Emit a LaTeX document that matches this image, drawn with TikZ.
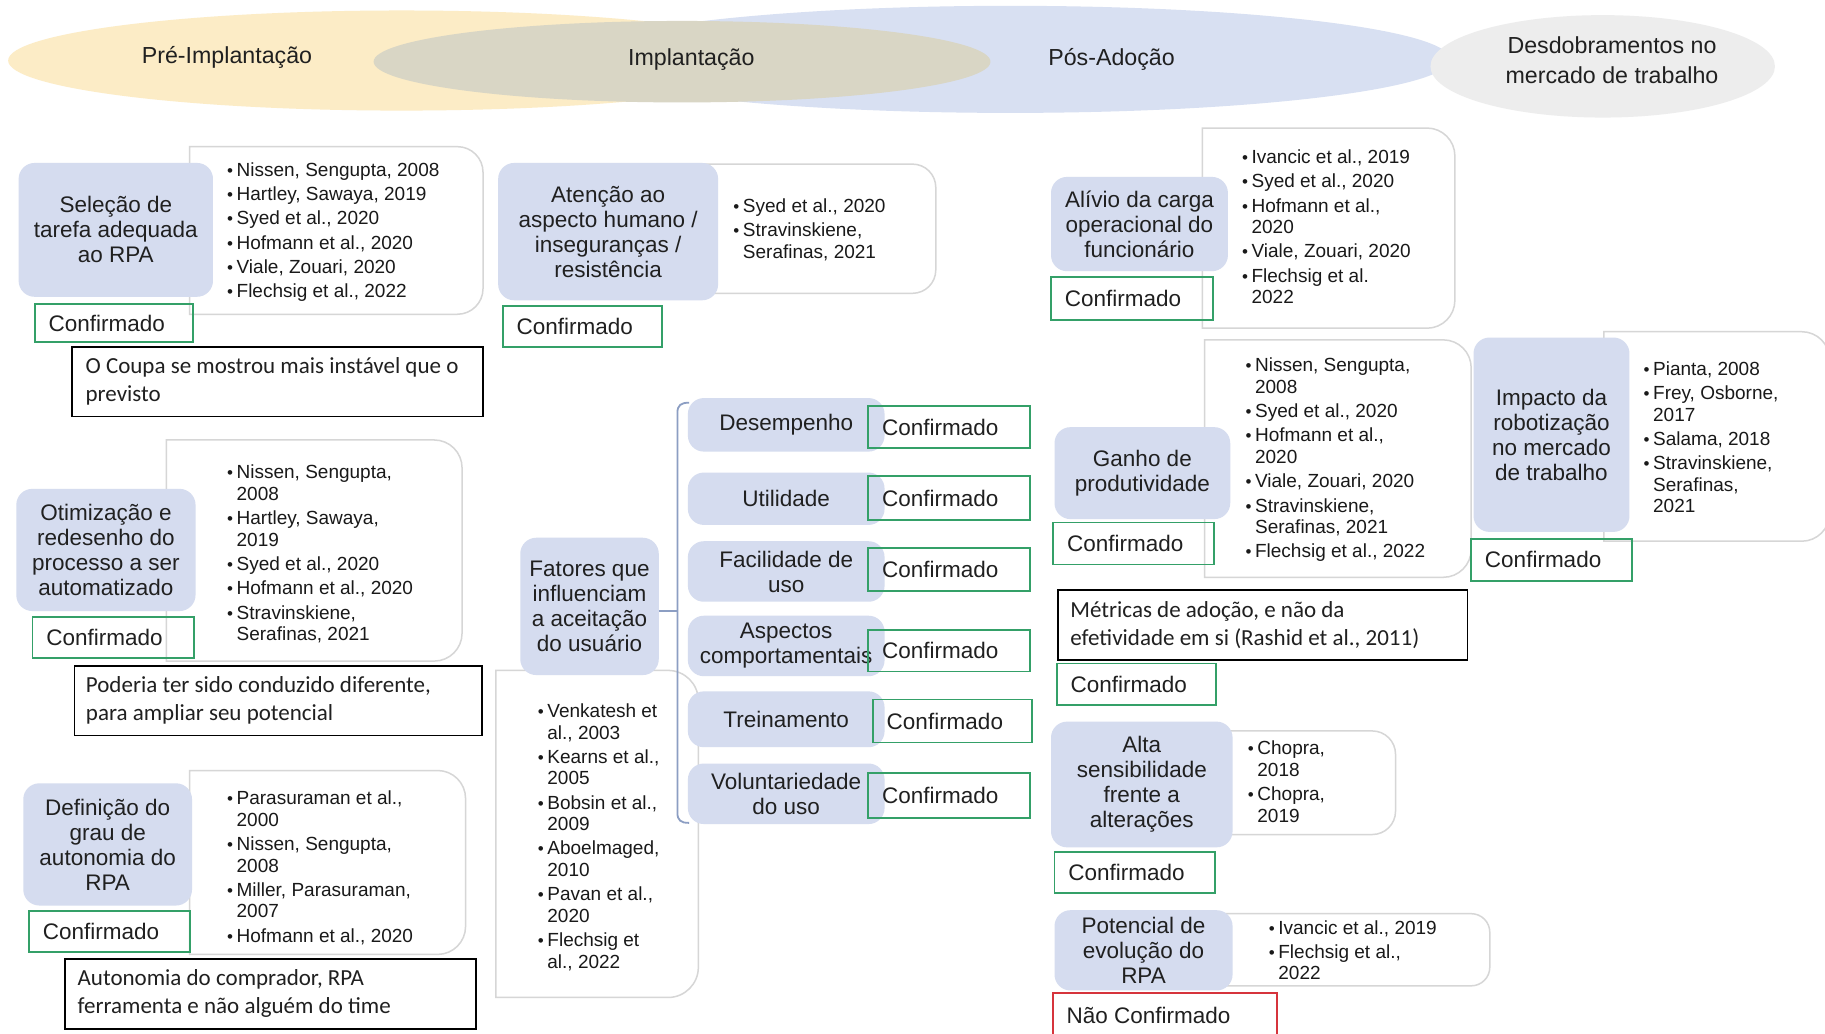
\documentclass[tikz,border=0pt]{standalone}
\usepackage{fontspec}
\setmainfont{Liberation Sans}
\newfontfamily\notefamily{Carlito}
\usetikzlibrary{fit}

\definecolor{topicblue}{RGB}{213,220,239}
\definecolor{textgray}{RGB}{32,32,32}
\definecolor{reftextcol}{RGB}{25,25,25}
\definecolor{framegray}{RGB}{214,214,214}
\definecolor{okgreen}{RGB}{52,160,104}
\definecolor{nored}{RGB}{214,52,60}
\definecolor{bracecol}{RGB}{140,158,195}
\definecolor{preyellow}{RGB}{252,236,198}
\definecolor{implgray}{RGB}{217,214,197}
\definecolor{posblue}{RGB}{216,224,242}
\definecolor{desgray}{RGB}{237,237,237}

\newcommand\topicfont{\fontsize{22.5}{25}\selectfont}
\newcommand\reffont{\fontsize{19}{21.5}\selectfont}
\newcommand\notefont{\notefamily\fontsize{23}{28}\selectfont}
\newcommand\itm{\makebox[9.5pt][l]{\fontsize{17}{17}\selectfont\textbullet}}
\newcommand\cnt{\hspace*{9.5pt}}
\newcommand\nx{\\[2.8pt]}
% reference panel: square left corners, rounded right corners
% #1 x1, #2 y1, #3 x2, #4 y2, #5 corner radius
\newcommand\refpanel[5]{%
  \draw[refframe] (#1,#2) -- ({#3-#5},#2)
    .. controls ({#3-0.448*#5},#2) and (#3,{#2+0.448*#5}) .. (#3,{#2+#5})
    -- (#3,{#4-#5})
    .. controls (#3,{#4-0.448*#5}) and ({#3-0.448*#5},#4) .. ({#3-#5},#4)
    -- (#1,#4) -- cycle;}

\begin{document}
\begin{tikzpicture}[x=1.163903pt, y=-1.163903pt,
  topicbox/.style={fill=topicblue, draw=none, rounded corners=16pt, inner sep=0pt},
  topictext/.style={inner sep=0pt, align=center, font=\topicfont, text=textgray},
  refframe/.style={draw=framegray, line width=1.5pt, fill=white},
  reftext/.style={anchor=north west, inner sep=0pt, align=left, font=\reffont, text=reftextcol},
  okbox/.style={draw=okgreen, line width=1.8pt, inner sep=0pt},
  nobox/.style={draw=nored, line width=1.8pt, inner sep=0pt},
  oktext/.style={anchor=west, inner sep=0pt, font=\topicfont, text=textgray},
  notebox/.style={draw=black, line width=1.5pt, fill=white, inner sep=0pt},
  notetext/.style={anchor=west, inner sep=0pt, align=left, font=\notefont, text=textgray},
  phase/.style={font=\fontsize{23.2}{30}\selectfont, text=textgray, align=center},
  brace/.style={draw=bracecol, line width=1.8pt}
]
\useasboundingbox (0,0) rectangle (1568,888);
\fill[white] (0,0) rectangle (1568,888);

% phase band
\fill[preyellow] (345,52) ellipse [x radius=338, y radius=43];
\fill[posblue] (868,51) ellipse [x radius=378, y radius=46];
\fill[implgray] (586,53) ellipse [x radius=265, y radius=35];
\fill[desgray] (1377,57) ellipse [x radius=148, y radius=44];
\node[phase] (pre) at (195,49) {Pré-Implantação};
\node[phase] (impl) at (594,51) {Implantação};
\node[phase] (pos) at (955,51) {Pós-Adoção};
\node[phase] (desd) at (1385,52) {Desdobramentos no\\mercado de trabalho};

% reference panels
\refpanel{163}{126}{415}{270}{22}
\refpanel{143}{378}{397}{568}{24}
\refpanel{163}{662}{400}{820}{24}
\refpanel{600}{141}{804}{252}{20}
\refpanel{426}{576}{600}{857}{26}
\refpanel{1033}{110}{1250}{282}{24}
\refpanel{1035}{292}{1264}{496}{24}
\refpanel{1040}{628}{1199}{717}{20}
\refpanel{1040}{785}{1280}{847}{16}
\refpanel{1378}{285}{1572}{465}{24}

\node[reftext] (r1) at (195,139.5) {\itm Nissen, Sengupta, 2008\nx\itm Hartley, Sawaya, 2019\nx
  \itm Syed et al., 2020\nx\itm Hofmann et al., 2020\nx\itm Viale, Zouari, 2020\nx\itm Flechsig et al., 2022};
\node[reftext] (r2) at (195,399.5) {\itm Nissen, Sengupta,\\\cnt 2008\nx\itm Hartley, Sawaya,\\\cnt 2019\nx
  \itm Syed et al., 2020\nx\itm Hofmann et al., 2020\nx\itm Stravinskiene,\\\cnt Serafinas, 2021};
\node[reftext] (r3) at (195,679.5) {\itm Parasuraman et al.,\\\cnt 2000\nx\itm Nissen, Sengupta,\\\cnt 2008\nx
  \itm Miller, Parasuraman,\\\cnt 2007\nx\itm Hofmann et al., 2020};
\node[reftext] (r4) at (630,170.5) {\itm Syed et al., 2020\nx\itm Stravinskiene,\\\cnt Serafinas, 2021};
\node[reftext] (r5) at (462,604.5) {\itm Venkatesh et\\\cnt al., 2003\nx\itm Kearns et al.,\\\cnt 2005\nx
  \itm Bobsin et al.,\\\cnt 2009\nx\itm Aboelmaged,\\\cnt 2010\nx\itm Pavan et al.,\\\cnt 2020\nx
  \itm Flechsig et\\\cnt al., 2022};
\node[reftext] (r6) at (1067,128.5) {\itm Ivancic et al., 2019\nx\itm Syed et al., 2020\nx
  \itm Hofmann et al.,\\\cnt 2020\nx\itm Viale, Zouari, 2020\nx\itm Flechsig et al.\\\cnt 2022};
\node[reftext] (r7) at (1070,307.5) {\itm Nissen, Sengupta,\\\cnt 2008\nx\itm Syed et al., 2020\nx
  \itm Hofmann et al.,\\\cnt 2020\nx\itm Viale, Zouari, 2020\nx\itm Stravinskiene,\\\cnt Serafinas, 2021\nx
  \itm Flechsig et al., 2022};
\node[reftext] (r8) at (1072,636.5) {\itm Chopra,\\\cnt 2018\nx\itm Chopra,\\\cnt 2019};
\node[reftext] (r9) at (1090,790.5) {\itm Ivancic et al., 2019\nx\itm Flechsig et al.,\\\cnt 2022};
\node[reftext] (r10) at (1412,310.5) {\itm Pianta, 2008\nx\itm Frey, Osborne,\\\cnt 2017\nx
  \itm Salama, 2018\nx\itm Stravinskiene,\\\cnt Serafinas,\\\cnt 2021};

% topic boxes
\node[topicbox, fit={(16,140) (183,255)}] (sel) {};
\node[topictext] (selt) at (sel.center) {Seleção de\\tarefa adequada\\ao RPA};
\node[topicbox, fit={(14,420) (168,525)}] (otim) {};
\node[topictext] (otimt) at (otim.center) {Otimização e\\redesenho do\\processo a ser\\automatizado};
\node[topicbox, fit={(20,673) (165,778)}] (defi) {};
\node[topictext] (defit) at (defi.center) {Definição do\\grau de\\autonomia do\\RPA};
\node[topicbox, fit={(428,140) (617,258)}] (aten) {};
\node[topictext] (atent) at (aten.center) {Atenção ao\\aspecto humano /\\inseguranças /\\resistência};
\node[topicbox, fit={(447,462) (566,580)}] (fat) {};
\node[topictext] (fatt) at (fat.center) {Fatores que\\influenciam\\a aceitação\\do usuário};
\node[topicbox, fit={(591,342) (760,388)}] (fdes) {};
\node[topictext] (fdest) at (fdes.center) {Desempenho};
\node[topicbox, fit={(591,406) (760,451)}] (futi) {};
\node[topictext] (futit) at (futi.center) {Utilidade};
\node[topicbox, fit={(591,465) (760,517)}] (ffac) {};
\node[topictext] (ffact) at (ffac.center) {Facilidade de\\uso};
\node[topicbox, fit={(591,529) (760,581)}] (fasp) {};
\node[topictext] (faspt) at (fasp.center) {Aspectos\\comportamentais};
\node[topicbox, fit={(591,594) (760,642)}] (ftre) {};
\node[topictext] (ftret) at (ftre.center) {Treinamento};
\node[topicbox, fit={(591,656) (760,708)}] (fvol) {};
\node[topictext] (fvolt) at (fvol.center) {Voluntariedade\\do uso};
\node[topicbox, fit={(903,152) (1055,233)}] (ali) {};
\node[topictext] (alit) at (ali.center) {Alívio da carga\\operacional do\\funcionário};
\node[topicbox, fit={(906,367) (1057,446)}] (gan) {};
\node[topictext] (gant) at (gan.center) {Ganho de\\produtividade};
\node[topicbox, fit={(903,620) (1059,728)}] (alta) {};
\node[topictext] (altat) at (alta.center) {Alta\\sensibilidade\\frente a\\alterações};
\node[topicbox, fit={(906,782) (1059,851)}] (pot) {};
\node[topictext] (pott) at (pot.center) {Potencial de\\evolução do\\RPA};
\node[topicbox, fit={(1266,290) (1400,457)}] (imp) {};
\node[topictext] (impt) at (imp.center) {Impacto da\\robotização\\no mercado\\de trabalho};

% status boxes
\node[okbox, fit={(30,261) (166,294)}] (ok1) {};
\node[okbox, fit={(28,530) (167,565)}] (ok2) {};
\node[okbox, fit={(25,783) (163,818)}] (ok3) {};
\node[okbox, fit={(432,263) (569,298)}] (ok4) {};
\node[okbox, fit={(746,349) (885,385)}] (okdes) {};
\node[okbox, fit={(746,409) (885,447)}] (okuti) {};
\node[okbox, fit={(746,471) (885,508)}] (okfac) {};
\node[okbox, fit={(746,541) (885,577)}] (okasp) {};
\node[okbox, fit={(750,601) (887,638)}] (oktre) {};
\node[okbox, fit={(746,664) (885,703)}] (okvol) {};
\node[okbox, fit={(903,238) (1042,275)}] (okali) {};
\node[okbox, fit={(905,449) (1043,485)}] (okgan) {};
\node[okbox, fit={(908,570) (1045,606)}] (okmet) {};
\node[okbox, fit={(906,732) (1044,767)}] (okalta) {};
\node[okbox, fit={(1264,463) (1402,499)}] (okimp) {};
\node[nobox, fit={(905,853) (1097,893)}] (nopot) {};
\foreach \b in {ok1,ok2,ok3,ok4,okdes,okuti,okfac,okasp,oktre,okvol,okali,okgan,okmet,okalta,okimp}
  \node[oktext] (\b-t) at ([xshift=14.5pt]\b.west) {Confirmado};
\node[oktext] (nopot-t) at ([xshift=14pt,yshift=-1pt]nopot.north west |- 0,872) {Não Confirmado};

% comment boxes
\node[notebox, fit={(62,298) (415,358)}] (n1) {};
\node[notetext] (n1t) at ([xshift=14pt]n1.west) {O Coupa se mostrou mais instável que o\\previsto};
\node[notebox, fit={(64,572) (414,632)}] (n2) {};
\node[notetext] (n2t) at ([xshift=12pt]n2.west) {Poderia ter sido conduzido diferente,\\para ampliar seu potencial};
\node[notebox, fit={(56,824) (409,884)}] (n3) {};
\node[notetext] (n3t) at ([xshift=13pt]n3.west) {Autonomia do comprador, RPA\\ferramenta e não alguém do time};
\node[notebox, fit={(909,507) (1261,567)}] (n4) {};
\node[notetext] (n4t) at ([xshift=13pt]n4.west) {Métricas de adoção, e não da\\efetividade em si (Rashid et al., 2011)};

% bracket grouping the acceptance factors
\coordinate (btop) at (592,346);
\coordinate (bbot) at (592,707);
\coordinate (bmid) at (582,525);
\draw[brace] (btop) .. controls (585,346) and (582,348) .. (582,355) -- (582,698)
  .. controls (582,705) and (585,707) .. (bbot);
\draw[brace] (fat.east |- bmid) -- (bmid);
\end{tikzpicture}
\end{document}
